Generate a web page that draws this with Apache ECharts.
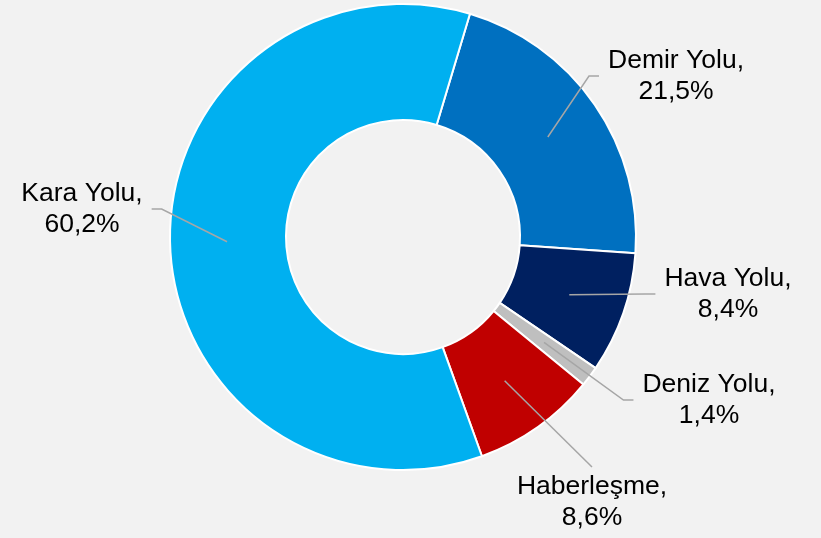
<!DOCTYPE html>
<html>
<head>
<meta charset="utf-8">
<script src="https://cdn.jsdelivr.net/npm/echarts@6/dist/echarts.min.js"></script>
<style>
html,body{margin:0;padding:0;background:#f2f2f2;}
#c{width:821px;height:538px;}
</style>
</head>
<body>
<div id="c"></div>
<script>
// Data
const categories = ['Demir Yolu', 'Hava Yolu', 'Deniz Yolu', 'Haberleşme', 'Kara Yolu'];
const values = [21.5, 8.4, 1.4, 8.6, 60.2];
const colors = ['#0070c0', '#002060', '#bfbfbf', '#c00000', '#00b0f0'];

// Layout (label centres in px)
const labelPos = {
  'Demir Yolu': [676, 76],
  'Hava Yolu': [728, 294],
  'Deniz Yolu': [709, 400],
  'Haberleşme': [592, 502],
  'Kara Yolu': [82, 209]
};
const center = [403, 237];

const fmt = v => v.toFixed(1).replace('.', ',') + '%';

function labelItem(n, i) {
  const item = { name: n, value: values[i] };
  if (n === 'Haberleşme') {
    item.label = { padding: [4, 70, 4, 70] };
    item.labelLine = { length2: 0 };
  }
  return item;
}

const chart = echarts.init(document.getElementById('c'));
chart.setOption({
  backgroundColor: '#f2f2f2',
  animation: false,
  series: [
    {
      type: 'pie',
      z: 1,
      center: center,
      radius: [117, 233],
      startAngle: 73.3,
      clockwise: true,
      silent: true,
      label: { show: false },
      labelLine: { show: false },
      itemStyle: { borderColor: '#ffffff', borderWidth: 2 },
      data: categories.map((n, i) => ({ name: n, value: values[i], itemStyle: { color: colors[i] } }))
    },
    {
      type: 'pie',
      z: 5,
      center: center,
      radius: [0, 176],
      startAngle: 73.3,
      clockwise: true,
      silent: true,
      avoidLabelOverlap: false,
      itemStyle: { color: 'rgba(0,0,0,0)', borderWidth: 0 },
      label: {
        show: true,
        position: 'outside',
        formatter: p => p.name + ',\n' + fmt(p.value),
        fontFamily: 'Liberation Sans, Arial, sans-serif',
        fontSize: 26.5,
        lineHeight: 31,
        color: '#000000',
        align: 'center',
        padding: [4, 9, 4, 9]
      },
      labelLine: {
        show: true,
        length: 10,
        length2: 10,
        smooth: false,
        lineStyle: { color: '#a6a6a6', width: 1.5 }
      },
      labelLayout: function (params) {
        const name = categories[params.dataIndex];
        const p = labelPos[name];
        return { x: p[0], y: p[1], align: 'center', verticalAlign: 'middle' };
      },
      data: categories.map(labelItem)
    }
  ]
});
</script>
</body>
</html>
